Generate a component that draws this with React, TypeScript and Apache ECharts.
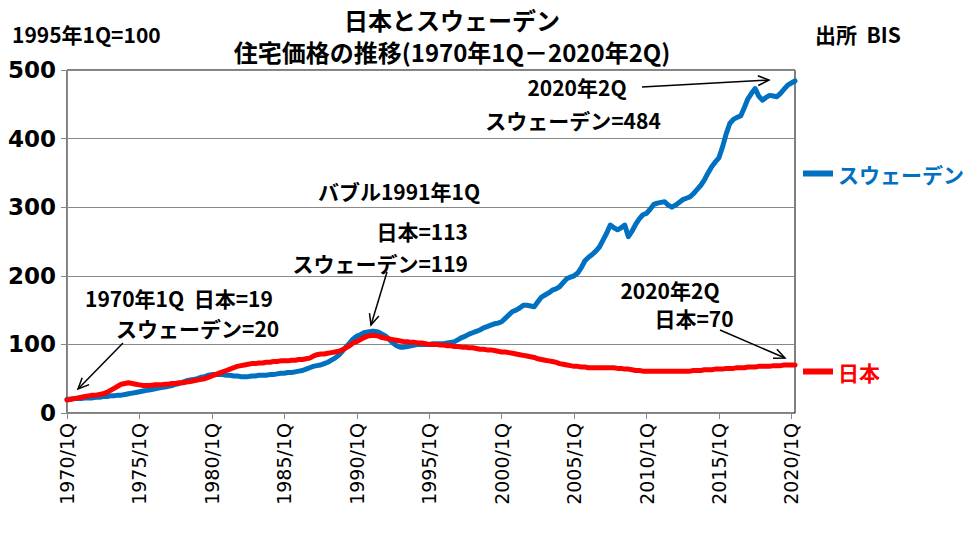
import React, { useEffect, useRef } from "react";
import * as echarts from "echarts";

const FIRST_YEAR = 1970;
const LAST_YEAR = 2020;
const LAST_QUARTER = 2;
const LABEL_EVERY = 20; // one label every 5 years

const categories: string[] = [];
for (let y = FIRST_YEAR; y <= LAST_YEAR; y++) {
  for (let q = 1; q <= 4; q++) {
    if (y === LAST_YEAR && q > LAST_QUARTER) break;
    categories.push(`${y}/${q}Q`);
  }
}

// スウェーデン 住宅価格 (1995年1Q=100), 1970Q1 - 2020Q2
const sweden = [
  20, 20, 21, 21, 21, 22, 22, 22, 23, 23, 24, 24, 25, 25, 26, 26,
  27, 28, 29, 30, 31, 32, 33, 34, 35, 36, 37, 38, 39, 40, 42, 43,
  45, 47, 48, 49, 50, 52, 53, 55, 56, 56, 56, 56, 55, 55, 54, 54,
  53, 53, 53, 54, 54, 55, 55, 55, 56, 56, 57, 58, 58, 59, 59, 60,
  61, 62, 64, 66, 68, 69, 70, 72, 74, 77, 80, 84, 90, 96, 102, 108,
  112, 114, 117, 118, 119, 119, 118, 115, 112, 107, 102, 98, 96, 96, 97, 98,
  99, 100, 100, 100, 100, 101, 101, 101, 101, 102, 103, 104, 107, 110, 112, 115,
  117, 119, 121, 124, 126, 128, 130, 131, 133, 138, 143, 148, 150, 153, 157, 157,
  156, 155, 162, 169, 172, 175, 179, 181, 184, 190, 196, 198, 200, 204, 212, 222,
  227, 231, 236, 242, 252, 262, 274, 270, 267, 270, 274, 257, 265, 275, 283, 289,
  291, 297, 304, 306, 307, 308, 303, 300, 303, 307, 311, 313, 315, 320, 326, 332,
  340, 350, 359, 366, 372, 388, 407, 422, 428, 431, 433, 445, 458, 466, 473, 462,
  456, 460, 463, 462, 461, 466, 472, 478, 481, 484,
];

// 日本 住宅価格 (1995年1Q=100), 1970Q1 - 2020Q2
const japan = [
  19, 20, 21, 22, 23, 24, 25, 26, 26, 27, 28, 30, 33, 36, 39, 42,
  43, 44, 43, 42, 41, 40, 40, 40, 41, 41, 41, 42, 42, 43, 43, 44,
  44, 45, 46, 47, 48, 49, 50, 52, 54, 56, 58, 60, 62, 64, 66, 68,
  69, 70, 71, 72, 72, 73, 73, 74, 74, 75, 75, 76, 76, 76, 77, 77,
  78, 78, 79, 80, 83, 85, 86, 86, 87, 88, 89, 90, 92, 95, 98, 102,
  104, 107, 110, 112, 113, 113, 112, 110, 109, 108, 107, 106, 105, 104, 104, 103,
  103, 102, 102, 101, 100, 100, 100, 99, 99, 98, 98, 97, 97, 96, 96, 95,
  95, 94, 93, 93, 92, 92, 91, 90, 89, 89, 88, 87, 86, 85, 84, 83,
  82, 81, 79, 78, 77, 76, 75, 74, 72, 71, 70, 69, 68, 68, 67, 67,
  66, 66, 66, 66, 66, 66, 66, 66, 65, 65, 64, 64, 63, 62, 62, 61,
  61, 61, 61, 61, 61, 61, 61, 61, 61, 61, 61, 61, 61, 62, 62, 62,
  63, 63, 63, 64, 64, 64, 65, 65, 65, 66, 66, 66, 67, 67, 67, 68,
  68, 68, 68, 69, 69, 69, 70, 70, 70, 70,
];

const yTicks = { min: 0, max: 500, interval: 100 };

const JP_FONT = '"Noto Sans CJK JP", "Noto Sans", sans-serif';
const BLUE = "#0070C0";
const RED = "#FF0000";

function arrow(x1: number, y1: number, x2: number, y2: number) {
  const a = Math.atan2(y2 - y1, x2 - x1);
  const len = 12;
  const s = 0.42;
  return [
    {
      type: "line",
      shape: { x1, y1, x2, y2 },
      style: { stroke: "#000", lineWidth: 1.5 },
      z: 100,
    },
    {
      type: "polyline",
      shape: {
        points: [
          [x2 - len * Math.cos(a - s), y2 - len * Math.sin(a - s)],
          [x2, y2],
          [x2 - len * Math.cos(a + s), y2 - len * Math.sin(a + s)],
        ],
      },
      style: { stroke: "#000", lineWidth: 1.5, fill: null },
      z: 100,
    },
  ];
}

function label(
  text: string,
  x: number,
  y: number,
  align: string = "left",
  size: number = 21,
  color: string = "#000"
) {
  return {
    type: "text",
    x,
    y,
    z: 100,
    style: {
      text,
      fill: color,
      fontSize: size,
      fontWeight: "bold",
      fontFamily: JP_FONT,
      textAlign: align,
      textVerticalAlign: "middle",
    },
  };
}

export default function App() {
  const ref = useRef<HTMLDivElement>(null);

  useEffect(() => {
    if (!ref.current) return;
    const chart = echarts.init(ref.current, undefined, { renderer: "svg" });

    const legendBase = {
      orient: "horizontal",
      icon: "rect",
      itemWidth: 30,
      itemHeight: 6,
      padding: 0,
      selectedMode: false,
      textStyle: { fontSize: 21, fontWeight: "bold", fontFamily: JP_FONT },
    };

    const every = (index: number) => index % LABEL_EVERY === 0;

    chart.setOption({
      animation: false,
      backgroundColor: "#fff",
      grid: {
        left: 67,
        right: 185,
        top: 70,
        bottom: 137,
        show: true,
        borderColor: "#000",
        borderWidth: 1,
        backgroundColor: "transparent",
      },
      legend: [
        {
          ...legendBase,
          left: 803,
          top: 163,
          data: [{ name: "スウェーデン", textStyle: { color: BLUE } }],
        },
        {
          ...legendBase,
          left: 803,
          top: 361,
          data: [{ name: "日本", textStyle: { color: RED } }],
        },
      ],
      xAxis: {
        type: "category",
        data: categories,
        boundaryGap: false,
        axisLine: { show: true, lineStyle: { color: "#888", width: 1 } },
        axisTick: {
          show: true,
          interval: every,
          length: 6,
          lineStyle: { color: "#888" },
        },
        axisLabel: {
          interval: every,
          rotate: 90,
          margin: 10,
          color: "#000",
          fontSize: 19,
          fontFamily: '"DejaVu Sans", sans-serif',
        },
        splitLine: { show: false },
      },
      yAxis: {
        type: "value",
        min: yTicks.min,
        max: yTicks.max,
        interval: yTicks.interval,
        axisLine: { show: true, lineStyle: { color: "#888", width: 1 } },
        axisTick: { show: true, length: 6, lineStyle: { color: "#888" } },
        axisLabel: {
          color: "#000",
          fontSize: 23,
          fontWeight: "bold",
          fontFamily: '"DejaVu Sans", sans-serif',
          margin: 11,
        },
        splitLine: { show: true, lineStyle: { color: "#888", width: 1 } },
      },
      series: [
        {
          name: "スウェーデン",
          type: "line",
          data: sweden,
          symbol: "none",
          showSymbol: false,
          color: BLUE,
          lineStyle: { color: BLUE, width: 5, join: "round", cap: "round" },
        },
        {
          name: "日本",
          type: "line",
          data: japan,
          symbol: "none",
          showSymbol: false,
          color: RED,
          lineStyle: { color: RED, width: 5, join: "round", cap: "round" },
        },
      ],
      graphic: [
        label("日本とスウェーデン", 452, 19, "center", 24),
        label("住宅価格の推移(1970年1Q－2020年2Q)", 452, 51, "center", 24),
        label("1995年1Q=100", 12, 34, "left", 21),
        label("出所  BIS", 815, 34, "left", 21),
        label("2020年2Q", 577, 87, "center"),
        label("スウェーデン=484", 573, 120, "center"),
        label("バブル1991年1Q", 399, 191, "center"),
        label("日本=113", 468, 231, "right"),
        label("スウェーデン=119", 468, 263, "right"),
        label("1970年1Q  日本=19", 85, 298, "left"),
        label("スウェーデン=20", 116, 328, "left"),
        label("2020年2Q", 670, 290, "center"),
        label("日本=70", 694, 318, "center"),
        ...arrow(123, 343, 78, 389),
        ...arrow(387, 272, 371, 325),
        ...arrow(642, 87, 769, 80),
        ...arrow(720, 330, 785, 358),
      ],
    });

    return () => chart.dispose();
  }, []);

  return (
    <div
      ref={ref}
      style={{ position: "absolute", left: 0, top: 0, width: 980, height: 550 }}
    />
  );
}
